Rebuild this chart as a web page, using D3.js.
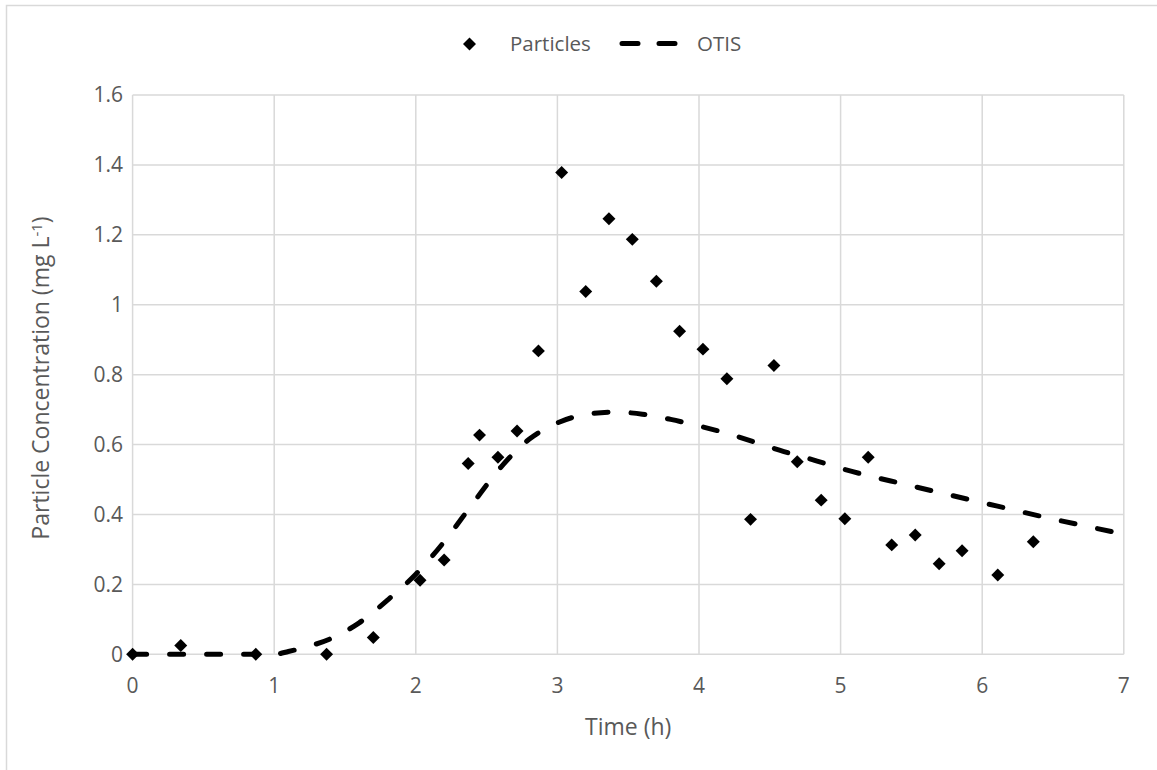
<!DOCTYPE html>
<html>
<head>
<meta charset="utf-8">
<script src="https://cdn.jsdelivr.net/npm/d3@7"></script>
<style>
  body { margin: 0; background: #fff; }
  text { font-family: "Open Sans", sans-serif; fill: #595959; }
</style>
</head>
<body>
<div id="chart"></div>
<script>
// Particles (measured)
const particleTime = [0, 0.34, 0.87, 1.37, 1.70, 2.03, 2.20, 2.37, 2.45, 2.58, 2.715, 2.866,
  3.03, 3.20, 3.364, 3.529, 3.699, 3.863, 4.028, 4.197, 4.364, 4.529, 4.694, 4.863,
  5.030, 5.195, 5.361, 5.527, 5.696, 5.858, 6.110, 6.361];
const particleConc = [0, 0.025, 0, 0, 0.048, 0.212, 0.27, 0.546, 0.627, 0.564, 0.639, 0.868,
  1.378, 1.038, 1.246, 1.187, 1.067, 0.924, 0.873, 0.788, 0.386, 0.826, 0.551, 0.441,
  0.388, 0.564, 0.313, 0.341, 0.259, 0.296, 0.227, 0.322];

// OTIS model
const otisTime = [0, 0.5, 1.0, 1.1, 1.2, 1.4, 1.6, 1.8, 2.0, 2.2, 2.4, 2.6, 2.8, 3.0, 3.2,
  3.4, 3.6, 3.8, 4.0, 4.2, 4.4, 4.6, 4.8, 5.0, 5.5, 6.0, 6.5, 7.0];
const otisConc = [0, 0, 0, 0.008, 0.018, 0.045, 0.09, 0.155, 0.229, 0.322, 0.43, 0.535, 0.615,
  0.662, 0.686, 0.693, 0.687, 0.672, 0.653, 0.632, 0.606, 0.58, 0.557, 0.532, 0.482,
  0.434, 0.387, 0.344];

const xTicks = [0, 1, 2, 3, 4, 5, 6, 7];
const yTicks = [0, 0.2, 0.4, 0.6, 0.8, 1, 1.2, 1.4, 1.6];

const width = 1157, height = 770;
const svg = d3.select("#chart").append("svg")
  .attr("width", width)
  .attr("height", height);

// outer chart border
svg.append("rect")
  .attr("x", 6.5).attr("y", 5.5)
  .attr("width", 1300).attr("height", 900)
  .attr("fill", "none")
  .attr("stroke", "#d9d9d9")
  .attr("stroke-width", 1.5);

const x = d3.scaleLinear().domain([0, 7]).range([132.6, 1123.8]);
const y = d3.scaleLinear().domain([0, 1.6]).range([654.3, 95]);

// gridlines
svg.append("g").selectAll("line")
  .data(xTicks)
  .join("line")
  .attr("x1", d => x(d)).attr("x2", d => x(d))
  .attr("y1", y(0)).attr("y2", y(1.6))
  .attr("stroke", "#d9d9d9").attr("stroke-width", 1.5);

svg.append("g").selectAll("line")
  .data(yTicks)
  .join("line")
  .attr("x1", x(0)).attr("x2", x(7))
  .attr("y1", d => y(d)).attr("y2", d => y(d))
  .attr("stroke", "#d9d9d9").attr("stroke-width", 1.5);

// tick labels
svg.append("g").selectAll("text")
  .data(xTicks)
  .join("text")
  .attr("x", d => x(d))
  .attr("y", 686)
  .attr("dy", "0.35em")
  .attr("text-anchor", "middle")
  .style("font-size", "21px")
  .text(d => d);

svg.append("g").selectAll("text")
  .data(yTicks)
  .join("text")
  .attr("x", 123)
  .attr("y", d => y(d))
  .attr("dy", "0.35em")
  .attr("text-anchor", "end")
  .style("font-size", "21px")
  .text(d => d);

// axis titles
svg.append("text")
  .attr("x", x(3.5))
  .attr("y", 727)
  .attr("dy", "0.35em")
  .attr("text-anchor", "middle")
  .style("font-size", "23px")
  .text("Time (h)");

const yTitle = svg.append("text")
  .attr("transform", "translate(41,378) rotate(-90)")
  .attr("dy", "0.35em")
  .attr("text-anchor", "middle")
  .style("font-size", "23px");
yTitle.append("tspan").text("Particle  Concentration (mg L");
yTitle.append("tspan").attr("dy", "-0.45em").style("font-size", "15px").text("-1");
yTitle.append("tspan").attr("dy", "0.3em").text(")");

// OTIS line
const otis = otisTime.map((t, i) => [t, otisConc[i]]);
const line = d3.line()
  .x(d => x(d[0]))
  .y(d => y(d[1]))
  .curve(d3.curveMonotoneX);

svg.append("path")
  .datum(otis)
  .attr("d", line)
  .attr("fill", "none")
  .attr("stroke", "#000")
  .attr("stroke-width", 5)
  .attr("stroke-linecap", "round")
  .attr("stroke-dasharray", "14 23");

// particle markers
const diamond = d3.symbol().type(d3.symbolSquare).size(84);
svg.append("g").selectAll("path")
  .data(particleTime.map((t, i) => [t, particleConc[i]]))
  .join("path")
  .attr("d", diamond)
  .attr("transform", d => "translate(" + x(d[0]) + "," + y(d[1]) + ") rotate(45)")
  .attr("fill", "#000");

// legend
const legend = svg.append("g");
legend.append("path")
  .attr("d", diamond)
  .attr("transform", "translate(469.5,44) rotate(45)")
  .attr("fill", "#000");
legend.append("text")
  .attr("x", 510).attr("y", 44).attr("dy", "0.35em")
  .style("font-size", "20.5px")
  .text("Particles");
legend.append("line")
  .attr("x1", 622).attr("x2", 676)
  .attr("y1", 43.5).attr("y2", 43.5)
  .attr("stroke", "#000")
  .attr("stroke-width", 5)
  .attr("stroke-linecap", "round")
  .attr("stroke-dasharray", "16 21");
legend.append("text")
  .attr("x", 697).attr("y", 44).attr("dy", "0.35em")
  .style("font-size", "20.5px")
  .text("OTIS");
</script>
</body>
</html>
